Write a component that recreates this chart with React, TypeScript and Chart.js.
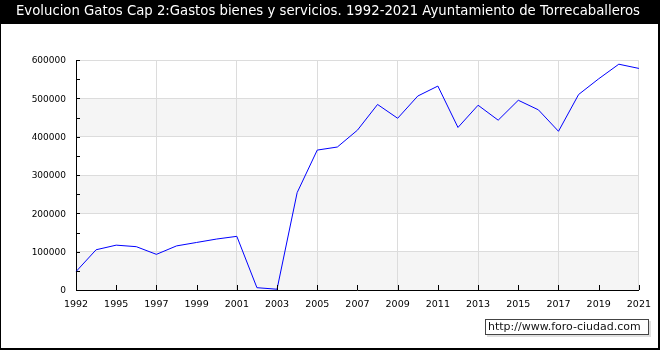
import React, { useEffect, useRef } from "react";
import { Chart, registerables } from "chart.js";

Chart.register(...registerables);

const TITLE = "Evolucion Gatos Cap 2:Gastos bienes y servicios. 1992-2021 Ayuntamiento de Torrecaballeros";
const WATERMARK = "http://www.foro-ciudad.com";

const years = [
  "1992", "1993", "1995", "1996", "1997", "1998", "1999", "2000", "2001", "2002",
  "2003", "2004", "2005", "2006", "2007", "2008", "2009", "2010", "2011", "2012",
  "2013", "2014", "2015", "2016", "2017", "2018", "2019", "2020", "2021",
];

const gastos = [
  48000, 105000, 117000, 113000, 93000, 115000, 124000, 133000, 140000, 6000,
  2000, 254000, 365000, 373000, 417000, 484000, 448000, 506000, 532000, 424000,
  482000, 443000, 495000, 470000, 414000, 510000, 551000, 589000, 578000,
];

const yMin = 0;
const yMax = 600000;
const yStep = 100000;
const yMinorStep = 50000;
const bandStarts = [0, 200000, 400000];

const FONT = "'DejaVu Sans', Verdana, sans-serif";

const framePlugin = {
  id: "framePlugin",
  beforeDraw(chart: any) {
    const { ctx, width, height, chartArea, scales } = chart;
    ctx.save();
    ctx.fillStyle = "#ffffff";
    ctx.fillRect(0, 0, width, height);
    ctx.fillStyle = "#000000";
    ctx.fillRect(0, 0, width, 24);
    const y = scales.y;
    ctx.fillStyle = "#f5f5f5";
    for (const b of bandStarts) {
      const top = y.getPixelForValue(b + yStep);
      const bottom = y.getPixelForValue(b);
      ctx.fillRect(chartArea.left, top, chartArea.right - chartArea.left, bottom - top);
    }
    ctx.restore();
  },
  afterDraw(chart: any) {
    const { ctx, width, height, chartArea, scales } = chart;
    ctx.save();
    ctx.strokeStyle = "#000000";
    ctx.lineWidth = 1;
    ctx.beginPath();
    const x = scales.x;
    for (let i = 0; i < years.length; i += 2) {
      const px = Math.round(x.getPixelForValue(i)) + 0.5;
      ctx.moveTo(px, chartArea.bottom - 5);
      ctx.lineTo(px, chartArea.bottom);
    }
    const y = scales.y;
    for (let v = yMin; v <= yMax; v += yMinorStep) {
      const py = Math.round(y.getPixelForValue(v)) + 0.5;
      ctx.moveTo(chartArea.left, py);
      ctx.lineTo(chartArea.left + 4, py);
    }
    ctx.stroke();
    ctx.strokeRect(0.5, 0.5, width - 1, height - 1);
    ctx.beginPath();
    ctx.moveTo(0, height - 1.5);
    ctx.lineTo(width, height - 1.5);
    ctx.moveTo(width - 1.5, 0);
    ctx.lineTo(width - 1.5, height);
    ctx.stroke();
    ctx.restore();
  },
};

export default function App() {
  const canvasRef = useRef<HTMLCanvasElement | null>(null);

  useEffect(() => {
    const canvas = canvasRef.current;
    if (!canvas) return;
    const chart = new Chart(canvas, {
      type: "line",
      data: {
        labels: years,
        datasets: [
          {
            label: "Gastos",
            data: gastos,
            borderColor: "#0000ff",
            borderWidth: 1,
            pointRadius: 0,
            tension: 0,
            fill: false,
          },
        ],
      },
      options: {
        responsive: false,
        animation: false,
        devicePixelRatio: 1,
        layout: { padding: { left: 16, right: 20, top: 0, bottom: 0 } },
        plugins: {
          legend: { display: false },
          tooltip: { enabled: false },
          title: {
            display: true,
            text: TITLE,
            color: "#ffffff",
            font: { family: FONT, size: 13.4, weight: "normal", lineHeight: 1.2 },
            padding: { top: 3.6, bottom: 40.32 },
          },
        },
        scales: {
          x: {
            type: "category",
            offset: false,
            afterFit(scale: any) {
              scale.height = 60;
            },
            grid: {
              drawTicks: false,
              color: (c: any) => (c.index % 2 === 0 ? "#dcdcdc" : "rgba(0,0,0,0)"),
              lineWidth: 1,
            },
            border: { color: "#000000", width: 1 },
            ticks: {
              autoSkip: false,
              maxRotation: 0,
              minRotation: 0,
              padding: 9,
              color: "#000000",
              font: { family: FONT, size: 9.5 },
              callback: (_v: any, i: number) => (i % 2 === 0 ? years[i] : null),
            },
          },
          y: {
            min: yMin,
            max: yMax,
            afterFit(scale: any) {
              scale.width = 60;
            },
            grid: { drawTicks: false, color: "#dcdcdc", lineWidth: 1 },
            border: { color: "#000000", width: 1 },
            ticks: {
              stepSize: yStep,
              padding: 10,
              labelOffset: 1,
              color: "#000000",
              font: { family: FONT, size: 9 },
              callback: (v: any) => String(v),
            },
          },
        },
      },
      plugins: [framePlugin],
    });
    return () => chart.destroy();
  }, []);

  return (
    <div style={{ position: "absolute", left: 0, top: 0, width: 660, height: 350 }}>
      <canvas ref={canvasRef} width={660} height={350} style={{ display: "block" }} />
      <div
        style={{
          position: "absolute",
          left: 485,
          top: 319,
          width: 164,
          height: 16,
          boxSizing: "border-box",
          border: "1px solid #444",
          background: "#ffffff",
          boxShadow: "2px 2px 0 #e0e0e0",
          fontFamily: FONT,
          fontSize: 11,
          lineHeight: "14px",
          color: "#111",
          paddingLeft: 2,
          whiteSpace: "nowrap",
          overflow: "hidden",
        }}
      >
        {WATERMARK}
      </div>
    </div>
  );
}
